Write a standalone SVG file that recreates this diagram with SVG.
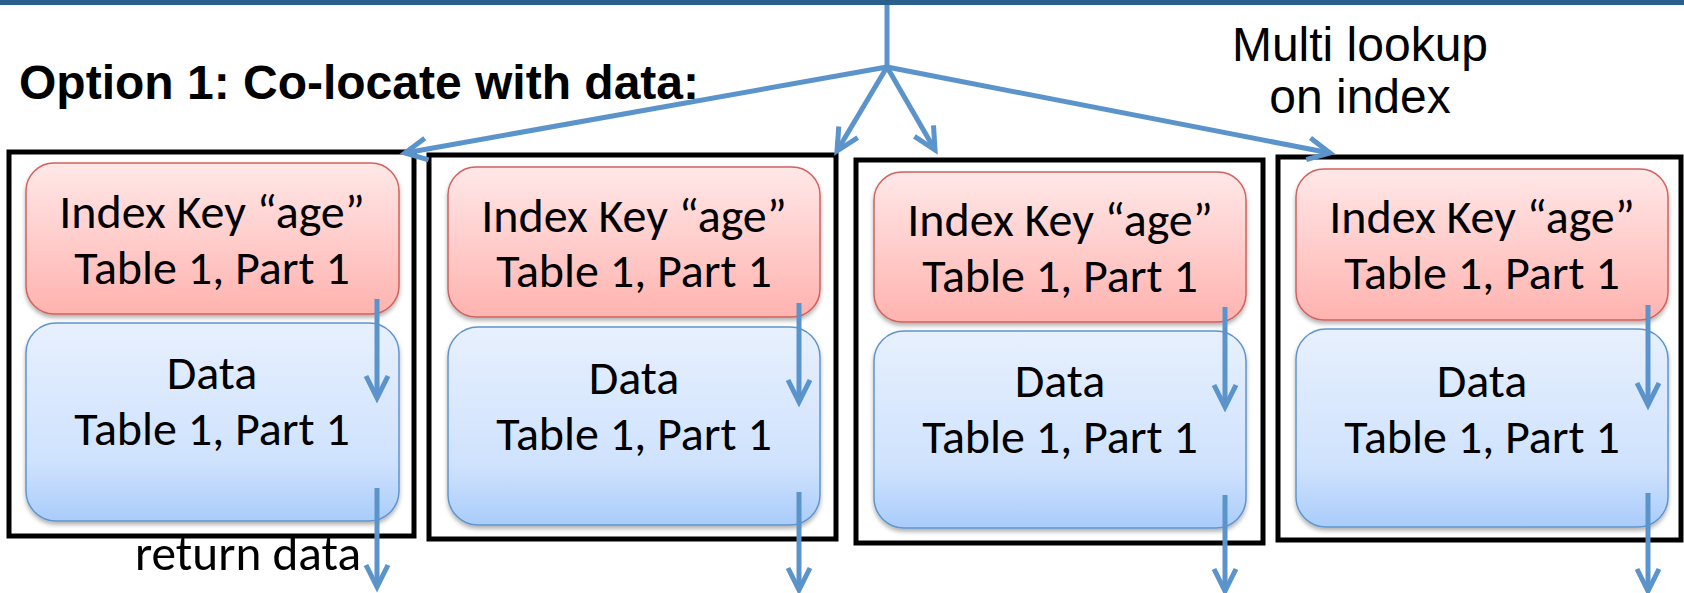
<svg xmlns="http://www.w3.org/2000/svg" width="1684" height="593" viewBox="0 0 1684 593">
<style>
.frame{fill:#fff;stroke:#000;stroke-width:5}
.idx{fill:url(#gRed);stroke:#D0625E;stroke-width:1.5;filter:url(#sh)}
.dat{fill:url(#gBlue);stroke:#5F95CE;stroke-width:1.5;filter:url(#sh)}
.lbl{font-family:Carlito,Lato,sans-serif;font-size:48px;fill:#000;text-anchor:middle}
.conn{stroke:#5B93CB;stroke-width:5;fill:none}
</style>
<defs>
<linearGradient id="gRed" x1="0" y1="0" x2="0" y2="1">
<stop offset="0" stop-color="#FFE8E8"/><stop offset="1" stop-color="#FFB3AF"/>
</linearGradient>
<linearGradient id="gBlue" x1="0" y1="0" x2="0" y2="1">
<stop offset="0" stop-color="#E7F0FE"/><stop offset="0.7" stop-color="#CFE2FD"/><stop offset="1" stop-color="#A9CCFB"/>
</linearGradient>
<filter id="sh" x="-5%" y="-5%" width="110%" height="120%">
<feDropShadow dx="0" dy="3" stdDeviation="2" flood-color="#000" flood-opacity="0.3"/>
</filter>
<marker id="ah" viewBox="-28 -16 32 32" refX="0" refY="0" markerWidth="32" markerHeight="32" markerUnits="userSpaceOnUse" orient="auto" overflow="visible">
<path d="M-22,-11 L0,0 L-22,11" fill="none" stroke="#5B93CB" stroke-width="5"/>
</marker>
</defs>
<rect x="0" y="0" width="1684" height="5" fill="#2B5F8E"/>
<text x="19" y="99" font-family="Liberation Sans,Arial,sans-serif" font-size="48" font-weight="bold">Option 1: Co-locate with data:</text>
<g id="label-multi">
<text x="1360" y="61" font-family="Liberation Sans,Arial,sans-serif" font-size="48" text-anchor="middle">Multi lookup</text>
<text x="1360" y="113" font-family="Liberation Sans,Arial,sans-serif" font-size="48" text-anchor="middle">on index</text>
</g>
<g id="node1">
<rect class="frame" x="9" y="152" width="405" height="384"/>
<rect class="idx" x="26" y="163" width="373" height="151" rx="28"/>
<rect class="dat" x="26" y="323" width="373" height="198" rx="30"/>
<text class="lbl" x="212" y="228">Index Key “age”</text>
<text class="lbl" x="212" y="284">Table 1, Part 1</text>
<text class="lbl" x="212" y="389">Data</text>
<text class="lbl" x="212" y="445">Table 1, Part 1</text>
</g>
<g id="node2">
<rect class="frame" x="429" y="155" width="407" height="384"/>
<rect class="idx" x="448" y="167" width="372" height="150" rx="28"/>
<rect class="dat" x="448" y="327" width="372" height="198" rx="30"/>
<text class="lbl" x="634" y="232">Index Key “age”</text>
<text class="lbl" x="634" y="287">Table 1, Part 1</text>
<text class="lbl" x="634" y="394">Data</text>
<text class="lbl" x="634" y="450">Table 1, Part 1</text>
</g>
<g id="node3">
<rect class="frame" x="856" y="160" width="407" height="383"/>
<rect class="idx" x="874" y="172" width="372" height="150" rx="28"/>
<rect class="dat" x="874" y="331" width="372" height="197" rx="30"/>
<text class="lbl" x="1060" y="236">Index Key “age”</text>
<text class="lbl" x="1060" y="292">Table 1, Part 1</text>
<text class="lbl" x="1060" y="397">Data</text>
<text class="lbl" x="1060" y="453">Table 1, Part 1</text>
</g>
<g id="node4">
<rect class="frame" x="1278" y="157" width="403" height="383"/>
<rect class="idx" x="1296" y="169" width="372" height="151" rx="28"/>
<rect class="dat" x="1296" y="329" width="372" height="198" rx="30"/>
<text class="lbl" x="1482" y="233">Index Key “age”</text>
<text class="lbl" x="1482" y="289">Table 1, Part 1</text>
<text class="lbl" x="1482" y="397">Data</text>
<text class="lbl" x="1482" y="453">Table 1, Part 1</text>
</g>
<text x="135" y="570" font-family="Carlito,Lato,sans-serif" font-size="49" textLength="226" lengthAdjust="spacingAndGlyphs">return data</text>
<g id="connectors">
<line class="conn" x1="887" y1="5" x2="887" y2="67" stroke-width="4"/>
<line class="conn" x1="887" y1="67" x2="405" y2="153" marker-end="url(#ah)"/>
<line class="conn" x1="887" y1="67" x2="837" y2="151" marker-end="url(#ah)"/>
<line class="conn" x1="887" y1="67" x2="935" y2="150" marker-end="url(#ah)"/>
<line class="conn" x1="887" y1="67" x2="1330" y2="153" marker-end="url(#ah)"/>
<line class="conn" x1="377" y1="299" x2="377" y2="398" marker-end="url(#ah)"/>
<line class="conn" x1="377" y1="488" x2="377" y2="587" marker-end="url(#ah)"/>
<line class="conn" x1="799" y1="303" x2="799" y2="402" marker-end="url(#ah)"/>
<line class="conn" x1="799" y1="492" x2="799" y2="590" marker-end="url(#ah)"/>
<line class="conn" x1="1225" y1="307" x2="1225" y2="407" marker-end="url(#ah)"/>
<line class="conn" x1="1225" y1="495" x2="1225" y2="591" marker-end="url(#ah)"/>
<line class="conn" x1="1648" y1="305" x2="1648" y2="405" marker-end="url(#ah)"/>
<line class="conn" x1="1648" y1="493" x2="1648" y2="591" marker-end="url(#ah)"/>
</g>
</svg>
